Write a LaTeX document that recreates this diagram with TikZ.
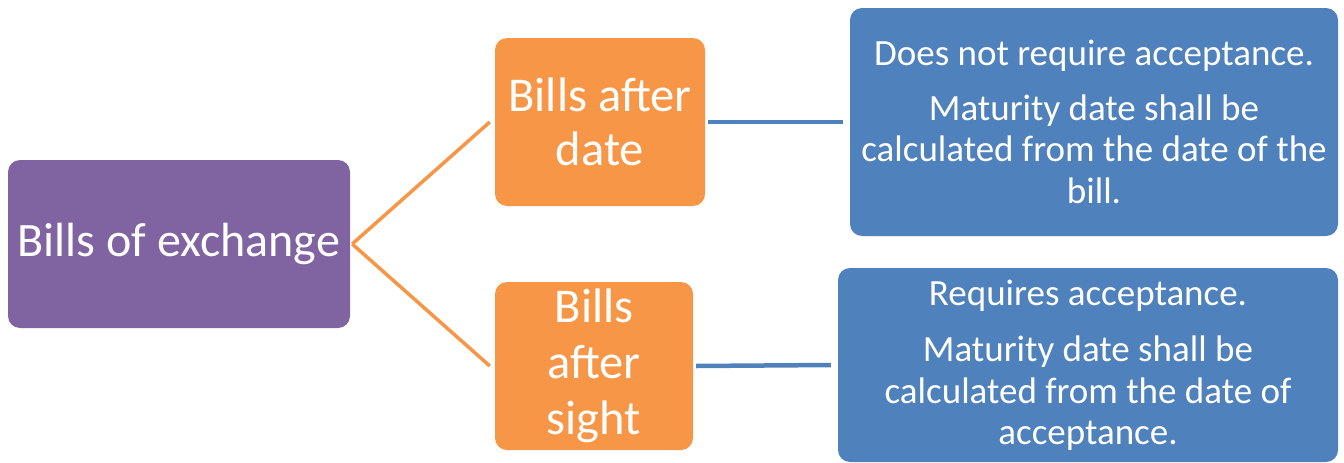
\documentclass[tikz,border=0pt]{standalone}
\usepackage{fontspec}
\setmainfont{Carlito}
\definecolor{cpurple}{HTML}{8064A2}
\definecolor{corange}{HTML}{F79646}
\definecolor{cblue}{HTML}{4F81BD}
\tikzset{
  boxbase/.style={rounded corners=12pt, inner sep=0pt, align=center, text=white, anchor=center},
  purplebox/.style={boxbase, fill=cpurple, font=\fontsize{48}{56}\selectfont},
  orangebox/.style={boxbase, fill=corange, font=\fontsize{48.5}{56}\selectfont},
  bluebox/.style={boxbase, fill=cblue, font=\fontsize{37}{41.5}\selectfont},
  oline/.style={draw=corange, line width=3.5pt},
  bline/.style={draw=cblue, line width=4.5pt}
}
\begin{document}
\begin{tikzpicture}[x=1pt,y=-1pt]
\useasboundingbox (0,0) rectangle (1344,463);
\node[purplebox, minimum width=342pt, minimum height=168pt] (pur) at (179,244) {Bills of exchange};
\node[orangebox, minimum width=210pt, minimum height=168pt] (ot) at (600,122) {Bills after\\[-2pt]date};
\node[orangebox, minimum width=198pt, minimum height=168pt] (ob) at (594,366) {Bills\\after\\sight};
\node[bluebox, minimum width=488pt, minimum height=228pt] (bt) at (1094,122) {Does not require acceptance.\\[13pt]Maturity date shall be\\calculated from the date of the\\bill.};
\node[bluebox, minimum width=500pt, minimum height=194pt] (bb) at (1088,365) {Requires acceptance.\\[15pt]Maturity date shall be\\calculated from the date of\\acceptance.};
\draw[oline] ([xshift=2pt]pur.east) -- ([xshift=-5pt]ot.west);
\draw[oline] ([xshift=2pt]pur.east) -- ([xshift=-5pt]ob.west);
\draw[bline] ([xshift=3pt]ot.east) -- ([xshift=-7pt]bt.west);
\draw[bline] ([xshift=3pt]ob.east) -- ([xshift=-7pt]bb.west);
\end{tikzpicture}
\end{document}
